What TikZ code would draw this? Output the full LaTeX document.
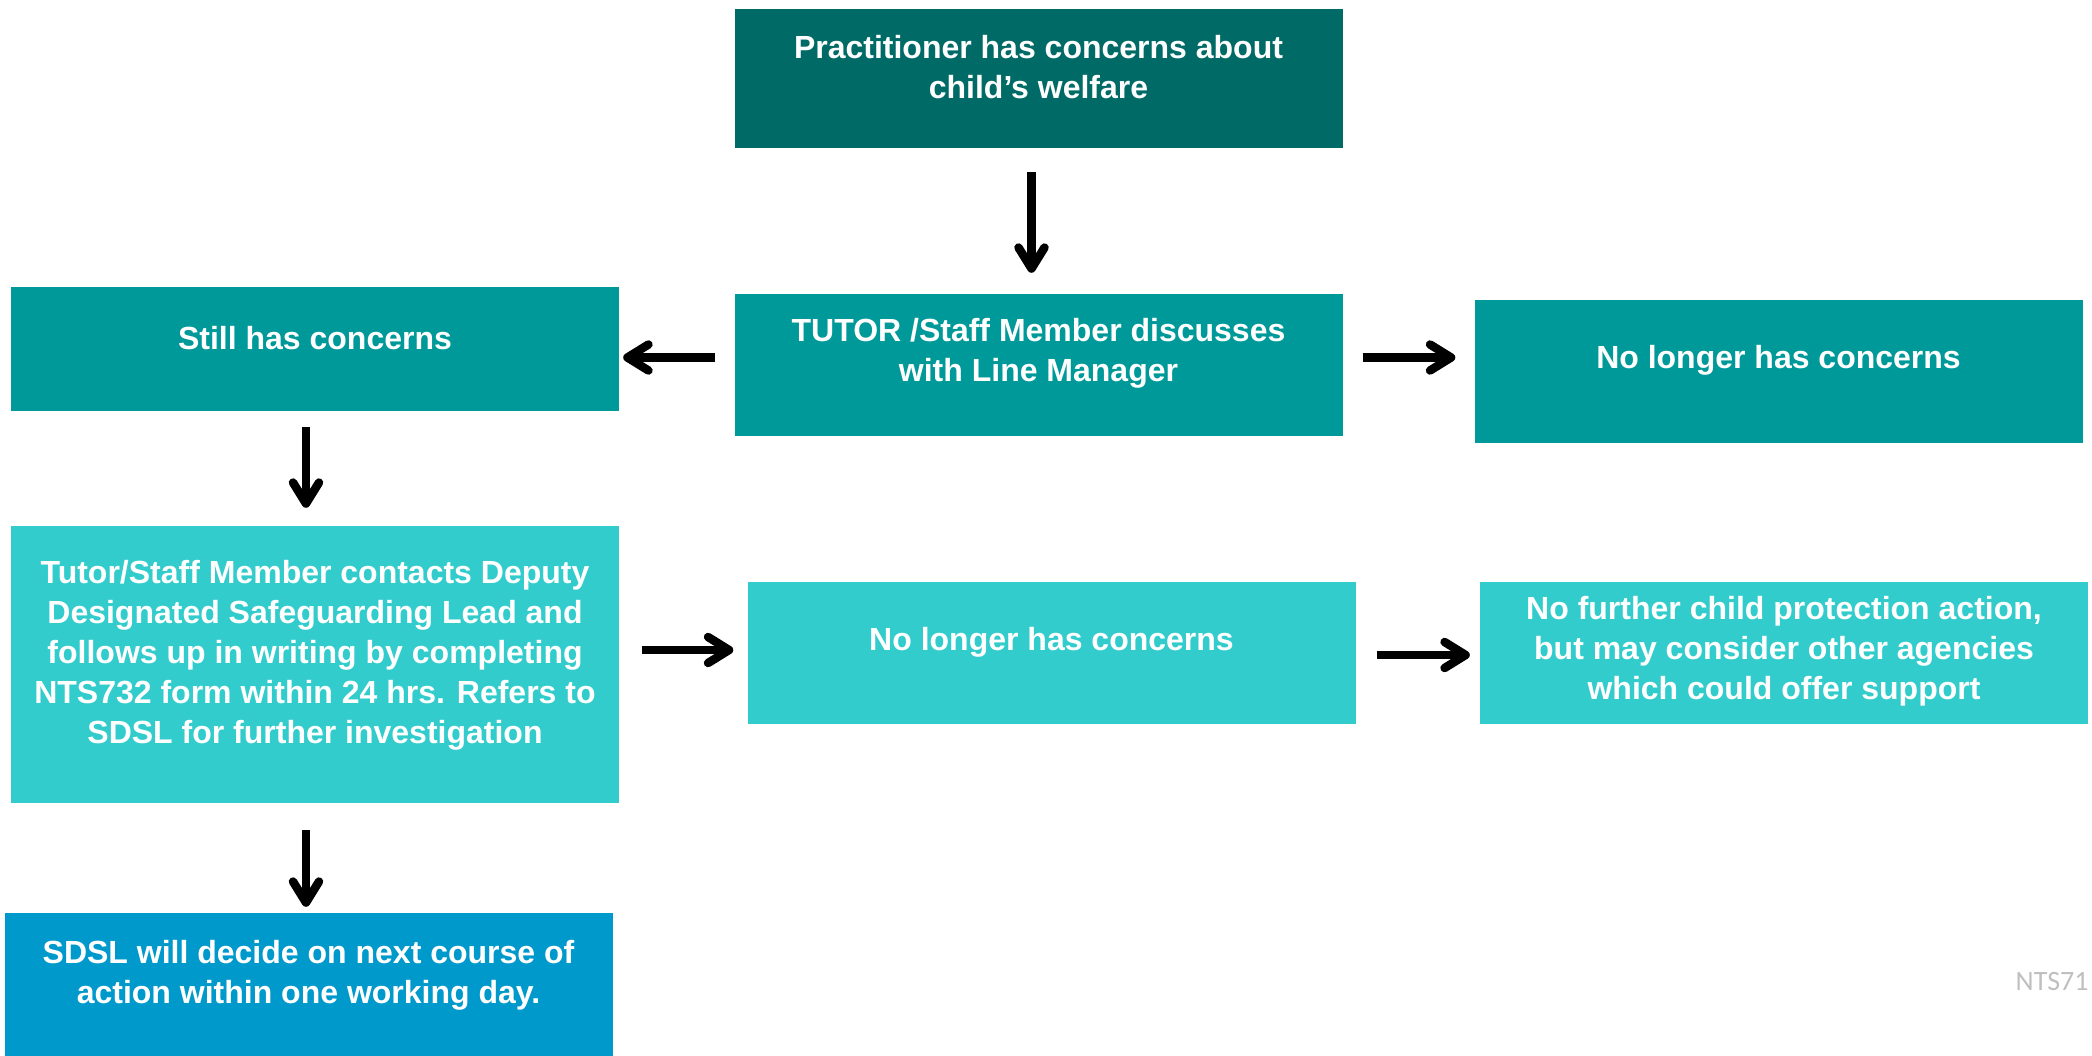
\documentclass[tikz,border=0pt]{standalone}
\usepackage{fontspec}
\setmainfont{Liberation Sans}[BoldFont={Liberation Sans Bold}]
\newfontfamily\notefont{Carlito}
\usetikzlibrary{arrows.meta}

\definecolor{tealdark}{HTML}{006B66}
\definecolor{tealmid}{HTML}{009999}
\definecolor{teallight}{HTML}{33CCCC}
\definecolor{bluebox}{HTML}{0099CC}

\begin{document}
\begin{tikzpicture}[x=1pt,y=1pt,
    flowbox/.style={rectangle, inner sep=0pt, minimum width=608pt},
    boxtext/.style={text=white, inner sep=0pt, align=center,
      font=\bfseries\fontsize{32}{40}\selectfont},
    arr/.style={line width=8.5pt,
      -{Straight Barb[length=21pt,width=26pt,line cap=round,line join=round]}}]
    \useasboundingbox (0,0) rectangle (2092,-1056);

    % boxes
    \node[flowbox, fill=tealdark, minimum height=139pt] (prac) at (1038.5,-78.5) {};
    \node[flowbox, fill=tealmid, minimum height=142pt] (tutor) at (1038.5,-365) {};
    \node[flowbox, fill=tealmid, minimum height=124pt] (still) at (315,-349) {};
    \node[flowbox, fill=tealmid, minimum height=143pt] (nolongA) at (1778.5,-371.5) {};
    \node[flowbox, fill=teallight, minimum height=277pt] (contacts) at (315,-664.5) {};
    \node[flowbox, fill=teallight, minimum height=142pt] (nolongB) at (1051.5,-653) {};
    \node[flowbox, fill=teallight, minimum height=142pt] (nofurther) at (1784,-653) {};
    \node[flowbox, fill=bluebox, minimum height=143pt] (sdsl) at (308.5,-984.5) {};

    % texts
    \node[boxtext] (pracT) at ([yshift=11]prac) {Practitioner has concerns about\\child’s welfare};
    \node[boxtext] (tutorT) at ([yshift=12]tutor) {TUTOR /Staff Member discusses\\with Line Manager};
    \node[boxtext] (stillT) at ([yshift=11]still) {Still has concerns};
    \node[boxtext] (nolongAT) at ([yshift=11]nolongA) {No longer has concerns};
    \node[boxtext] (contactsT) at ([yshift=9]contacts) {Tutor/Staff Member contacts Deputy\\Designated Safeguarding Lead and\\follows up in writing by completing\\NTS732 form within 24 hrs. Refers to\\SDSL for further investigation};
    \node[boxtext] (nolongBT) at ([yshift=11]nolongB) {No longer has concerns};
    \node[boxtext] (nofurtherT) at ([yshift=2]nofurther) {No further child protection action,\\but may consider other agencies\\which could offer support};
    \node[boxtext] (sdslT) at ([yshift=9]sdsl) {SDSL will decide on next course of\\action within one working day.};

    \node[anchor=base east, text=black!25, font=\notefont\fontsize{28}{34}\selectfont] (ref) at (2092,-990) {NTS71};

    % arrows
    \draw[arr, shorten <=24pt, shorten >=21pt] ([xshift=-7]prac.south) -- ([xshift=-7]tutor.north);
    \draw[arr, shorten <=19pt, shorten >=4pt] ([yshift=7.5]tutor.west) -- ([yshift=-8.5]still.east);
    \draw[arr, shorten <=20pt, shorten >=19pt] ([yshift=7.5]tutor.east) -- ([yshift=14]nolongA.west);
    \draw[arr, shorten <=16pt, shorten >=18pt] ([xshift=-9]still.south) -- ([xshift=-9]contacts.north);
    \draw[arr, shorten <=23pt, shorten >=14pt] ([yshift=14.5]contacts.east) -- ([yshift=3]nolongB.west);
    \draw[arr, shorten <=21pt, shorten >=10pt] ([yshift=-2]nolongB.east) -- ([yshift=-2]nofurther.west);
    \draw[arr, shorten <=27pt, shorten >=6pt] ([xshift=-9]contacts.south) -- ([xshift=-2.5]sdsl.north);
\end{tikzpicture}
\end{document}
